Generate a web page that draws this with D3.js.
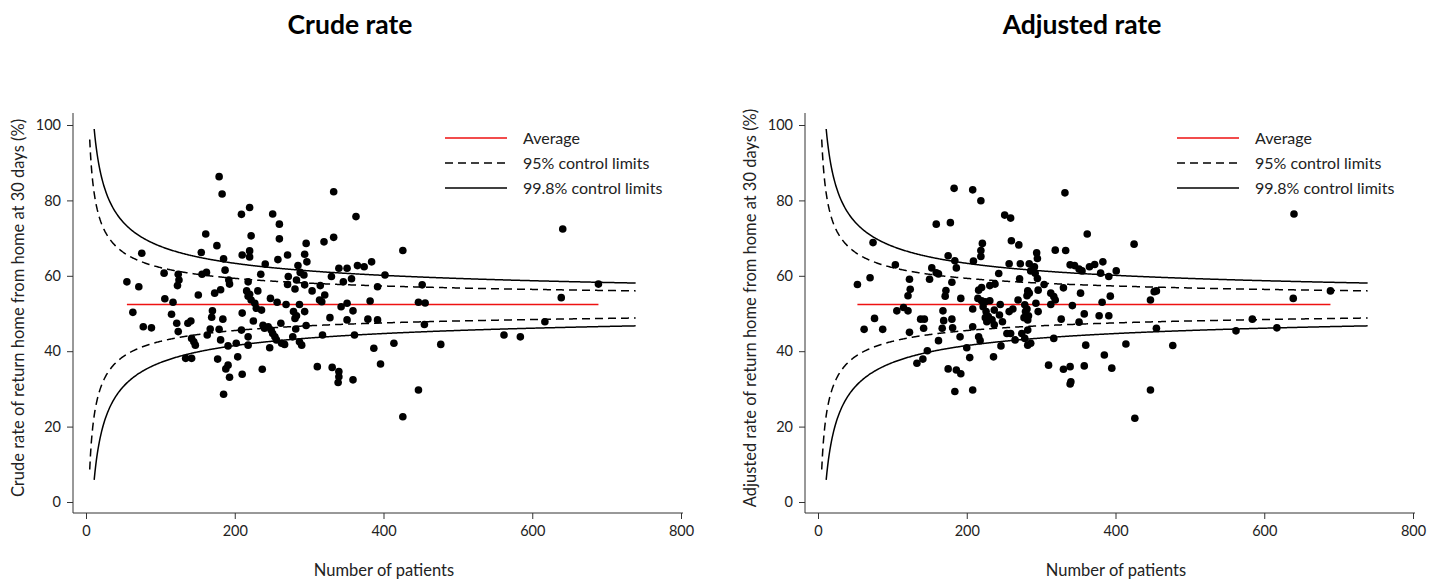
<html>
<head>
<style>
  body { margin: 0; background: #fff; }
  text { font-family: Lato, "Open Sans", sans-serif; fill: #222; }
</style>
</head>
<body>
<svg id="chart"></svg>
<script src="https://d3js.org/d3.v7.min.js" charset="utf-8"></script>
<script type="text/javascript">
  // canvas
  width = 1440
  height = 583

  // tick labels
  xTicks = [0, 200, 400, 600, 800]
  yTicks = [0, 20, 40, 60, 80, 100]

  // average rate (%) and z values of the control limits
  average = 52.4
  limit95 = 1.96
  limit998 = 3.09
  legendLabels = ['Average', '95% control limits', '99.8% control limits']

  // [number of patients, rate %] per hospital
  crudePoints = [
    [179,86.3],[183,81.7],[161,71.1],[176,68.0],[155,66.2],[75,66.0],[185,64.5],[105,60.7],[124,60.4],[156,60.4],
    [162,60.9],[125,58.9],[55,58.4],[71,57.1],[123,57.4],[151,54.9],[173,55.4],[181,56.3],[106,53.9],[117,53.0],
    [63,50.3],[115,49.8],[170,50.7],[169,49.0],[184,48.5],[77,46.5],[88,46.2],[122,47.4],[141,48.0],[137,47.4],
    [124,45.2],[167,45.9],[179,45.8],[163,44.3],[142,43.4],[145,42.5],[147,41.6],[181,43.0],[134,38.1],[142,38.1],
    [177,37.9],[188,35.3],[185,28.6],
    [209,76.3],[220,78.1],[251,76.4],[260,73.7],[222,70.6],[260,69.8],[210,65.5],[220,66.6],[220,65.0],[296,68.6],
    [187,61.5],[241,63.1],[258,64.3],[271,65.5],[294,65.7],[297,63.7],[285,62.7],[235,60.4],[192,58.9],[193,57.8],
    [218,58.4],[272,59.8],[288,60.9],[293,60.2],[283,58.9],[294,57.6],[281,56.5],[271,57.7],[304,56.0],[216,56.0],
    [220,55.1],[231,56.0],[218,54.6],[222,53.6],[227,52.7],[229,51.4],[236,50.9],[248,54.0],[257,53.0],[269,52.4],
    [287,52.4],[279,50.5],[283,49.4],[281,48.7],[294,50.5],[210,50.1],[225,48.0],[238,46.9],[240,46.1],[245,46.5],
    [249,45.6],[251,44.7],[254,43.8],[256,43.0],[263,42.1],[267,41.8],[262,47.4],[282,45.9],[296,46.8],[209,45.6],
    [218,43.8],[191,41.4],[202,42.1],[218,41.6],[278,43.8],[287,42.5],[290,41.6],[247,40.9],[204,38.5],[191,36.3],
    [193,33.1],[210,33.9],[237,35.2],
    [333,82.3],[363,75.7],[320,69.0],[333,70.2],[426,66.7],[340,62.0],[351,62.0],[365,62.7],[374,62.4],[384,63.7],
    [402,60.2],[330,59.8],[315,57.4],[346,58.4],[357,59.2],[392,57.1],[321,54.9],[314,53.6],[317,53.1],[343,51.8],
    [351,52.7],[359,50.7],[382,53.3],[328,48.9],[351,48.3],[379,48.5],[392,48.3],[318,44.3],[361,44.3],[387,40.8],
    [414,42.1],[311,35.9],[331,35.7],[340,34.6],[340,33.2],[339,31.7],[359,32.4],[396,36.6],[426,22.6],
    [641,72.4],[452,57.6],[447,53.0],[456,52.8],[455,47.1],[477,41.8],[447,29.7],[689,57.8],[639,54.2],[617,47.8],
    [562,44.3],[584,43.8]
  ]

  adjustedPoints = [
    [183,83.2],[159,73.7],[178,74.1],[74,68.8],[175,65.3],[184,64.0],[104,62.9],[153,62.1],[186,62.1],[159,60.8],
    [162,60.5],[150,59.1],[70,59.5],[53,57.7],[123,59.1],[180,58.3],[124,56.4],[121,54.7],[172,56.1],[171,54.6],
    [106,50.7],[115,51.6],[121,50.7],[168,50.7],[76,48.7],[138,48.5],[143,48.5],[169,48.1],[180,48.5],[62,45.8],
    [87,45.8],[123,45.0],[142,46.1],[167,46.1],[181,46.2],[162,42.8],[147,40.1],[141,37.9],[133,36.8],[175,35.3],
    [186,35.0],[184,29.3],
    [208,82.8],[219,79.9],[251,76.1],[259,75.3],[260,69.3],[270,68.2],[221,68.6],[219,66.7],[219,65.1],[209,63.9],
    [294,66.1],[295,64.6],[257,63.2],[272,63.2],[284,63.2],[291,62.4],[286,61.3],[292,60.7],[295,59.3],[243,60.6],
    [271,59.2],[238,57.8],[231,57.4],[216,56.2],[220,56.9],[282,56.0],[284,55.4],[281,54.7],[296,56.2],[304,57.7],
    [192,54.0],[215,54.0],[220,53.4],[225,53.1],[231,53.4],[245,52.4],[269,53.6],[278,52.3],[293,52.7],[281,51.2],
    [208,51.2],[222,51.8],[226,50.5],[229,49.2],[225,48.9],[234,48.3],[227,47.8],[237,50.9],[244,49.6],[248,47.8],
    [257,50.5],[262,51.2],[279,50.5],[283,49.4],[282,48.3],[296,50.5],[277,48.9],[208,46.5],[237,47.0],[254,44.7],
    [259,44.7],[265,43.0],[274,44.7],[282,45.6],[278,43.4],[282,41.6],[286,42.1],[191,43.8],[216,43.8],[218,42.8],
    [246,41.4],[200,40.9],[204,38.3],[236,38.5],[192,34.0],[208,29.7],
    [332,82.0],[362,71.1],[425,68.4],[319,66.8],[333,66.7],[339,62.9],[345,62.7],[351,61.8],[355,61.3],[365,62.4],
    [372,63.0],[383,63.7],[380,60.7],[391,59.8],[401,61.3],[330,56.8],[313,55.4],[317,54.5],[319,53.6],[353,55.4],
    [393,54.6],[382,53.0],[313,52.4],[342,52.1],[358,49.9],[378,49.4],[391,49.4],[327,48.5],[351,47.7],[317,43.4],
    [360,41.6],[414,41.9],[385,39.0],[310,36.3],[330,35.2],[339,35.9],[358,36.1],[395,35.5],[340,31.9],[339,31.3],
    [426,22.2],
    [640,76.4],[452,55.8],[455,56.0],[447,53.6],[455,46.1],[477,41.5],[447,29.7],[689,56.0],[639,54.0],[584,48.5],
    [562,45.4],[617,46.2]
  ]

  svg = d3.select('#chart')
          .attr('width', width)
          .attr('height', height)

  // binomial funnel limit around the average, in %
  function limit(n, z, sign) {
    var p = average / 100
    return 100 * (p + sign * z * Math.sqrt(p * (1 - p) / n))
  }

  function drawPanel(offset, title, yTitle, points) {
    var g = svg.append('g').attr('transform', 'translate(' + offset + ',0)')

    var x = d3.scaleLinear().domain([0, 800]).range([86, 681])
    var y = d3.scaleLinear().domain([0, 100]).range([502, 125])

    // title
    g.append('text')
      .attr('x', 350).attr('y', 34)
      .attr('text-anchor', 'middle')
      .style('font-weight', 'bold')
      .style('font-size', '26.5px')
      .style('fill', '#000')
      .text(title)

    // axes
    var xAxis = g.append('g')
      .attr('transform', 'translate(0,513)')
      .call(d3.axisBottom(x).tickValues(xTicks).tickSize(6).tickPadding(7))
    var yAxis = g.append('g')
      .attr('transform', 'translate(73,0)')
      .call(d3.axisLeft(y).tickValues(yTicks).tickSize(6).tickPadding(6))
    xAxis.select('.domain').remove()
    yAxis.select('.domain').remove()
    g.selectAll('.tick line').attr('stroke', '#333')
    g.selectAll('.tick text').style('font-size', '14.5px').style('font-family', 'Lato, sans-serif').attr('fill', '#222')
    g.append('line').attr('x1', 73).attr('x2', 683).attr('y1', 513).attr('y2', 513).attr('stroke', '#333')
    g.append('line').attr('x1', 73).attr('x2', 73).attr('y1', 113).attr('y2', 513).attr('stroke', '#333')

    g.append('text')
      .attr('x', 384).attr('y', 576)
      .attr('text-anchor', 'middle')
      .style('font-size', '16.5px')
      .text('Number of patients')

    g.append('text')
      .attr('transform', 'translate(24,308) rotate(-90)')
      .attr('text-anchor', 'middle')
      .style('font-size', '16.5px')
      .text(yTitle)

    // control limits
    var line = d3.line().x(function(d) { return x(d[0]) }).y(function(d) { return y(d[1]) })
    var ns95 = d3.range(5, 740, 1)
    var ns998 = d3.range(11, 740, 1)
    ;[1, -1].forEach(function(sign) {
      g.append('path')
        .attr('d', line(ns95.map(function(n) { return [n, limit(n, limit95, sign)] })))
        .attr('fill', 'none').attr('stroke', '#000').attr('stroke-width', 1.5)
        .attr('stroke-dasharray', '8,5')
      g.append('path')
        .attr('d', line(ns998.map(function(n) { return [n, limit(n, limit998, sign)] })))
        .attr('fill', 'none').attr('stroke', '#000').attr('stroke-width', 1.5)
    })

    // average over the range of hospitals
    var nExtent = d3.extent(points, function(d) { return d[0] })
    g.append('line')
      .attr('x1', x(nExtent[0])).attr('x2', x(nExtent[1]))
      .attr('y1', y(average)).attr('y2', y(average))
      .attr('stroke', '#ee1111').attr('stroke-width', 1.6)

    // hospitals
    g.selectAll('circle')
      .data(points)
      .enter()
      .append('circle')
      .attr('cx', function(d) { return x(d[0]) })
      .attr('cy', function(d) { return y(d[1]) })
      .attr('r', 3.8)
      .style('fill', '#000')

    // legend
    var legend = g.selectAll('.legend')
      .data(legendLabels)
      .enter()
      .append('g')
      .attr('transform', function(d, i) { return 'translate(445,' + (138 + i * 25) + ')' })
    legend.append('line')
      .attr('x1', 0).attr('x2', 62)
      .attr('stroke', function(d, i) { return i == 0 ? '#ee1111' : '#000' })
      .attr('stroke-width', 1.5)
      .attr('stroke-dasharray', function(d, i) { return i == 1 ? '8,5' : null })
    legend.append('text')
      .attr('x', 78).attr('y', 5.5)
      .style('font-size', '16px')
      .text(function(d) { return d })
  }

  drawPanel(0, 'Crude rate', 'Crude rate of return home from home at 30 days (%)', crudePoints)
  drawPanel(732, 'Adjusted rate', 'Adjusted rate of return home from home at 30 days (%)', adjustedPoints)
</script>
</body>
</html>
